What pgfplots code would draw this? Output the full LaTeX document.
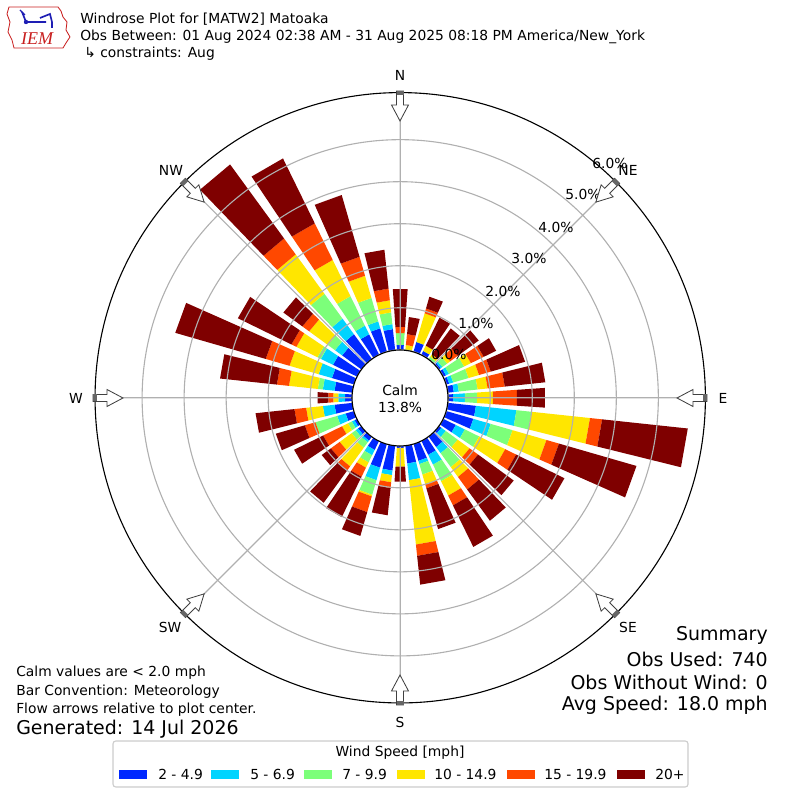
\documentclass[border=0pt]{standalone}
\usepackage{pgfplots}
\pgfplotsset{compat=1.18}
\usepackage{pgfplotstable}
\usepgfplotslibrary{polar}
\usepackage{fontspec}
\setmainfont{DejaVu Sans}
\newfontfamily\logofont{Liberation Serif}

\definecolor{ws1}{RGB}{0,40,255}
\definecolor{ws2}{RGB}{0,212,255}
\definecolor{ws3}{RGB}{124,255,122}
\definecolor{ws4}{RGB}{255,230,0}
\definecolor{ws5}{RGB}{255,72,0}
\definecolor{ws6}{RGB}{127,0,0}
\definecolor{gridgray}{RGB}{176,176,176}
\definecolor{logored}{RGB}{200,30,30}
\definecolor{logoblue}{RGB}{30,30,180}

% percent of observations per direction (deg) and speed class
\pgfplotstableread{
dir b1 b2 b3 b4 b5 b6
0 0.12 0.00 0.28 0.00 0.15 0.90
10 0.00 0.00 0.00 0.12 0.26 0.41
20 0.24 0.00 0.00 0.71 0.12 0.29
30 0.10 0.00 0.00 0.14 0.00 0.74
40 0.00 0.00 0.07 0.07 0.00 0.76
50 0.05 0.05 0.14 0.09 0.22 0.62
60 0.07 0.08 0.40 0.18 0.34 0.33
70 0.07 0.10 0.38 0.26 0.29 0.85
80 0.14 0.12 0.45 0.24 0.41 0.97
90 0.12 0.28 0.29 0.38 0.57 0.67
100 0.67 0.97 0.36 1.40 0.29 2.05
110 0.67 0.43 0.54 0.84 0.31 1.92
120 0.33 0.24 0.38 0.69 0.29 1.28
130 0.07 0.13 0.35 0.35 0.25 1.05
140 0.31 0.18 0.41 0.29 0.37 0.92
150 0.37 0.26 0.44 0.38 0.26 1.10
160 0.42 0.08 0.26 0.24 0.10 1.01
170 0.43 0.40 0.00 1.54 0.27 0.69
180 0.05 0.00 0.00 0.45 0.00 0.36
190 0.60 0.11 0.00 0.17 0.14 0.65
200 0.59 0.31 0.36 0.04 0.39 0.59
210 0.24 0.14 0.19 0.14 0.24 1.07
220 0.12 0.05 0.16 0.55 0.12 0.95
230 0.10 0.07 0.12 0.35 0.26 0.27
240 0.07 0.07 0.10 0.16 0.50 0.77
250 0.21 0.21 0.54 0.00 0.26 0.72
260 0.43 0.28 0.00 0.40 0.28 0.93
270 0.17 0.16 0.00 0.12 0.12 0.26
280 0.43 0.28 0.12 0.69 0.29 1.36
290 0.55 0.33 0.00 0.72 0.59 2.24
300 0.64 0.32 0.09 0.56 0.13 1.42
310 0.57 0.21 0.21 0.55 0.20 0.56
320 0.73 0.46 0.73 1.16 0.47 2.18
330 0.54 0.23 0.78 0.96 0.97 1.72
340 0.58 0.17 0.58 0.55 0.47 1.53
350 0.50 0.12 0.28 0.29 0.28 0.93
}\windtable

\def\calmoff{1.143}
\def\halfw{3.9}

\newcommand\wseg[1]{%
  \pgfplotstablegetelem{\row}{b#1}\of\windtable
  \pgfmathsetmacro\hi{\lo+\pgfplotsretval}%
  \edef\cmd{\noexpand\addplot[draw=none,fill=ws#1,forget plot] coordinates {(\aA,\lo) (\aB,\lo) (\aB,\hi) (\aA,\hi)};}%
  \cmd
  \let\lo\hi
}

\newcommand\compassarrow[1]{%
  \begin{scope}[shift={(400,402)}, rotate=#1]
    \draw[fill=white, draw=black!75, line width=0.6pt] (307,-3.5) -- (293,-3.5) -- (293,-8.5) -- (277,0) -- (293,8.5) -- (293,3.5) -- (307,3.5) -- cycle;
    \fill[black!60] (307,-3.5) rectangle (303,3.5);
  \end{scope}}

\begin{document}
\begin{tikzpicture}[x=0.01in,y=0.01in, font=\fontsize{10}{12}\selectfont]
\path[use as bounding box] (0,0) rectangle (800,800);

\begin{polaraxis}[
  at={(4in,4.02in)}, anchor=origin,
  scale only axis, width=6.1in, height=6.1in,
  xmin=0, xmax=360, ymin=0, ymax=7.263,
  xtick={0,45,...,315}, xticklabels={},
  ytick={1.143,2.143,3.143,4.143,5.143,6.143}, yticklabels={},
  grid=major,
  major grid style={gridgray, line width=0.8pt},
  separate axis lines,
  x axis line style={black, line width=0.8pt},
  y axis line style={draw=none},
  major tick length=0pt,
  axis on top,
]
\pgfplotsforeachungrouped \row in {0,...,35}{%
  \pgfplotstablegetelem{\row}{dir}\of\windtable
  \let\wdir\pgfplotsretval
  \pgfmathsetmacro\aA{90-\wdir-\halfw}%
  \pgfmathsetmacro\aB{90-\wdir+\halfw}%
  \let\lo\calmoff
  \wseg{1}\wseg{2}\wseg{3}\wseg{4}\wseg{5}\wseg{6}%
}
\end{polaraxis}

% calm circle
\draw[fill=white, line width=0.8pt] (400,402) circle (48);
\node at (400,410) {Calm};
\node at (400,393) {13.8\%};

% radial labels
\node at (449,446) {0.0\%};
\node at (476,477) {1.0\%};
\node at (503,509) {2.0\%};
\node at (529,542) {3.0\%};
\node at (556,573) {4.0\%};
\node at (583,606) {5.0\%};
\node at (610,637) {6.0\%};

% compass arrows and labels
\compassarrow{90}\compassarrow{45}\compassarrow{0}\compassarrow{-45}
\compassarrow{-90}\compassarrow{-135}\compassarrow{180}\compassarrow{135}
\node at (400,725) {N};
\node at (628,630) {NE};
\node at (723,402) {E};
\node at (628,173) {SE};
\node at (400,78) {S};
\node at (170,173) {SW};
\node at (76,402) {W};
\node at (171,630) {NW};

% logo
\draw[logored, line width=0.6pt] (9,793) -- (58,793) -- (61,789) -- (63,783) -- (67,778) -- (66,770) -- (70,763) -- (66,757) -- (63,752) -- (14,752) -- (12,760) -- (8,768) -- (10,778) -- (7,786) -- cycle;
\draw[logoblue, line width=1.2pt] (22,788) -- (26,778) -- (46,778);
\draw[logoblue, line width=1.2pt] (40,782) -- (50,786) -- (52,778) -- (52,772);
\draw[logoblue, line width=0.8pt] (20,790) -- (25,785);
\fill[logoblue] (26,778) circle (2.2);
\node[logored, font=\logofont\itshape\fontsize{13}{13}\selectfont] at (37,761) {IEM};

% title
\node[anchor=west, inner sep=0] at (80,781) {Windrose Plot for [MATW2] Matoaka};
\node[anchor=west, inner sep=0] at (80,763) {Obs Between: 01 Aug 2024 02:38 AM - 31 Aug 2025 08:18 PM America/New\_York};
\node[anchor=west, inner sep=0] at (84,746) {↳ constraints: Aug};

% summary
\begin{scope}[font=\fontsize{13.7}{16}\selectfont]
\node[anchor=east, inner sep=0] at (768,165) {Summary};
\node[anchor=east, inner sep=0] at (768,141) {Obs Used: 740};
\node[anchor=east, inner sep=0] at (768,118) {Obs Without Wind: 0};
\node[anchor=east, inner sep=0] at (768,95) {Avg Speed: 18.0 mph};
\end{scope}

% notes
\node[anchor=west, inner sep=0] at (16,127) {Calm values are < 2.0 mph};
\node[anchor=west, inner sep=0] at (16,108) {Bar Convention: Meteorology};
\node[anchor=west, inner sep=0] at (16,90) {Flow arrows relative to plot center.};
\node[anchor=west, inner sep=0, font=\fontsize{13.7}{16}\selectfont] at (16,71) {Generated: 14 Jul 2026};

% legend
\draw[draw=black!20, fill=white, rounded corners=2pt, line width=0.8pt] (113,13) rectangle (688,59);
\node at (400,47) {Wind Speed [mph]};
\fill[ws1] (119,21) rectangle (147,30); \node[anchor=west, inner sep=0] at (158,26) {2 - 4.9};
\fill[ws2] (211,21) rectangle (239,30); \node[anchor=west, inner sep=0] at (250,26) {5 - 6.9};
\fill[ws3] (304,21) rectangle (332,30); \node[anchor=west, inner sep=0] at (342,26) {7 - 9.9};
\fill[ws4] (397,21) rectangle (425,30); \node[anchor=west, inner sep=0] at (434,26) {10 - 14.9};
\fill[ws5] (507,21) rectangle (535,30); \node[anchor=west, inner sep=0] at (544,26) {15 - 19.9};
\fill[ws6] (617,21) rectangle (645,30); \node[anchor=west, inner sep=0] at (655,26) {20+};
\end{tikzpicture}
\end{document}
